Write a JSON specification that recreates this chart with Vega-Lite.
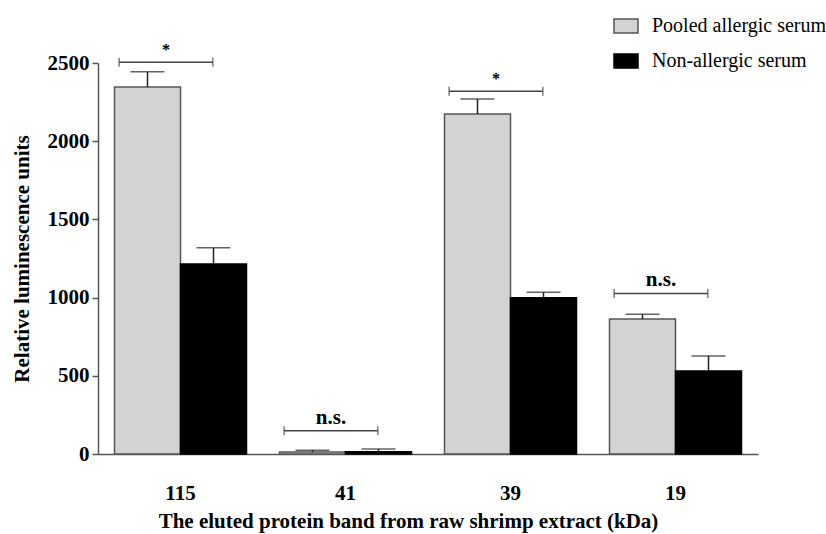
{
  "$schema": "https://vega.github.io/schema/vega-lite/v6.json",
  "width": 660,
  "height": 391,
  "autosize": {"type": "none"},
  "padding": {"left": 98, "top": 63, "right": 68, "bottom": 80},
  "background": "white",
  "config": {"view": {"stroke": null}, "font": "Liberation Serif"},
  "datasets": {
    "bars": [
      {"band": "115", "serum": "Pooled allergic serum", "value": 2347, "upper": 2444},
      {"band": "115", "serum": "Non-allergic serum", "value": 1215, "upper": 1319},
      {"band": "41", "serum": "Pooled allergic serum", "value": 12, "upper": 24},
      {"band": "41", "serum": "Non-allergic serum", "value": 15, "upper": 32},
      {"band": "39", "serum": "Pooled allergic serum", "value": 2174, "upper": 2270},
      {"band": "39", "serum": "Non-allergic serum", "value": 999, "upper": 1034},
      {"band": "19", "serum": "Pooled allergic serum", "value": 863, "upper": 893},
      {"band": "19", "serum": "Non-allergic serum", "value": 531, "upper": 627}
    ],
    "sig": [
      {"band": "115", "y": 2505, "label": "*"},
      {"band": "41", "y": 149, "label": "n.s."},
      {"band": "39", "y": 2319, "label": "*"},
      {"band": "19", "y": 1027, "label": "n.s."}
    ]
  },
  "layer": [
    {
      "data": {"name": "bars"},
      "mark": {"type": "bar", "strokeWidth": 1.5},
      "encoding": {
        "x": {
          "field": "band", "type": "nominal",
          "scale": {"domain": ["115", "41", "39", "19"], "paddingInner": 0.2, "paddingOuter": 0.1},
          "axis": {
            "title": "The eluted protein band from raw shrimp extract (kDa)",
            "bandPosition": 0.25,
            "ticks": false, "tickSize": 0,
            "domainColor": "#555555", "domainWidth": 1.5,
            "labelFont": "Liberation Serif", "labelFontSize": 21, "labelFontWeight": "bold", "labelColor": "black",
            "labelPadding": 28, "labelAngle": 0,
            "titleFont": "Liberation Serif", "titleFontSize": 21, "titleFontWeight": "bold", "titleColor": "black",
            "titlePadding": 7, "titleX": 310
          }
        },
        "xOffset": {
          "field": "serum", "type": "nominal",
          "scale": {"domain": ["Pooled allergic serum", "Non-allergic serum"], "paddingInner": 0, "paddingOuter": 0}
        },
        "y": {
          "field": "value", "type": "quantitative",
          "scale": {"domain": [0, 2500], "nice": false},
          "axis": {
            "title": "Relative luminescence units",
            "values": [0, 500, 1000, 1500, 2000, 2500],
            "format": "d",
            "grid": false,
            "tickSize": 6, "tickColor": "#555555", "tickWidth": 1.5,
            "domainColor": "#555555", "domainWidth": 1.5,
            "labelFont": "Liberation Serif", "labelFontSize": 21, "labelFontWeight": "bold", "labelColor": "black",
            "labelPadding": 3,
            "titleFont": "Liberation Serif", "titleFontSize": 21, "titleFontWeight": "bold", "titleColor": "black",
            "titlePadding": 15
          }
        },
        "fill": {
          "field": "serum", "type": "nominal",
          "scale": {"domain": ["Pooled allergic serum", "Non-allergic serum"], "range": ["#d3d3d3", "#000000"]},
          "legend": {
            "title": null, "orient": "none", "legendX": 515, "legendY": -50,
            "symbolType": "M-1,-0.583H1V0.583H-1Z", "symbolSize": 576, "symbolStrokeWidth": 1.5,
            "labelFont": "Liberation Serif", "labelFontSize": 20, "labelColor": "black", "labelLimit": 400,
            "labelOffset": 13, "rowPadding": 12, "padding": 0
          }
        },
        "stroke": {
          "field": "serum", "type": "nominal",
          "scale": {"domain": ["Pooled allergic serum", "Non-allergic serum"], "range": ["#555555", "#000000"]},
          "legend": {
            "title": null, "orient": "none", "legendX": 515, "legendY": -50,
            "symbolType": "M-1,-0.583H1V0.583H-1Z", "symbolSize": 576, "symbolStrokeWidth": 1.5,
            "labelFont": "Liberation Serif", "labelFontSize": 20, "labelColor": "black", "labelLimit": 400,
            "labelOffset": 13, "rowPadding": 12, "padding": 0
          }
        }
      }
    },
    {
      "data": {"name": "bars"},
      "mark": {"type": "rule", "color": "#222222", "strokeWidth": 1.5},
      "encoding": {
        "x": {"field": "band", "type": "nominal", "scale": {"domain": ["115", "41", "39", "19"]}},
        "xOffset": {"field": "serum", "type": "nominal", "scale": {"domain": ["Pooled allergic serum", "Non-allergic serum"]}},
        "y": {"field": "value", "type": "quantitative"},
        "y2": {"field": "upper"}
      }
    },
    {
      "data": {"name": "bars"},
      "mark": {"type": "tick", "color": "#222222", "thickness": 1.5, "size": 34},
      "encoding": {
        "x": {"field": "band", "type": "nominal", "scale": {"domain": ["115", "41", "39", "19"]}},
        "xOffset": {"field": "serum", "type": "nominal", "scale": {"domain": ["Pooled allergic serum", "Non-allergic serum"]}},
        "y": {"field": "upper", "type": "quantitative"}
      }
    },
    {
      "data": {"name": "sig"},
      "mark": {"type": "rule", "color": "#444444", "strokeWidth": 1.5},
      "encoding": {
        "x": {"field": "band", "type": "nominal", "bandPosition": 0.035, "scale": {"domain": ["115", "41", "39", "19"]}},
        "x2": {"field": "band", "bandPosition": 0.745},
        "y": {"field": "y", "type": "quantitative"}
      }
    },
    {
      "data": {"name": "sig"},
      "mark": {"type": "tick", "color": "#444444", "thickness": 1.5, "size": 9, "orient": "vertical"},
      "encoding": {
        "x": {"field": "band", "type": "nominal", "bandPosition": 0.035, "scale": {"domain": ["115", "41", "39", "19"]}},
        "y": {"field": "y", "type": "quantitative"}
      }
    },
    {
      "data": {"name": "sig"},
      "mark": {"type": "tick", "color": "#444444", "thickness": 1.5, "size": 9, "orient": "vertical"},
      "encoding": {
        "x": {"field": "band", "type": "nominal", "bandPosition": 0.745, "scale": {"domain": ["115", "41", "39", "19"]}},
        "y": {"field": "y", "type": "quantitative"}
      }
    },
    {
      "data": {"name": "sig"},
      "mark": {"type": "text", "font": "Liberation Serif", "fontWeight": "bold", "baseline": "alphabetic", "dy": -7, "color": "black"},
      "encoding": {
        "x": {"field": "band", "type": "nominal", "bandPosition": 0.39, "scale": {"domain": ["115", "41", "39", "19"]}},
        "y": {"field": "y", "type": "quantitative"},
        "text": {"field": "label"},
        "size": {"condition": {"test": "datum.label === '*'", "value": 16}, "value": 21}
      }
    }
  ]
}
